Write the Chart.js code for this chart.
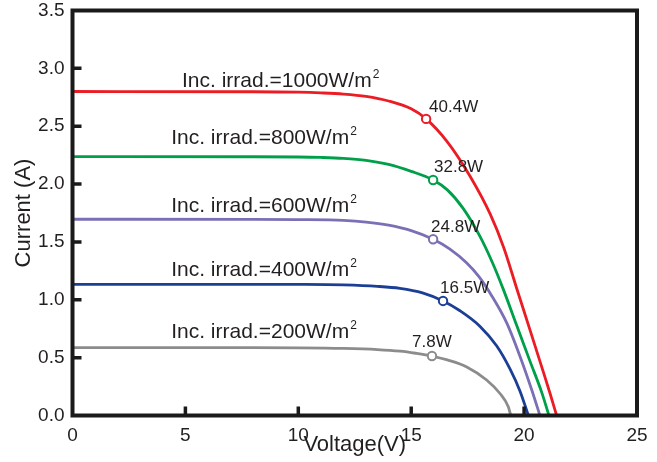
<!DOCTYPE html>
<html><head><meta charset="utf-8">
<script src="https://cdn.jsdelivr.net/npm/chart.js@4.4.1/dist/chart.umd.min.js"></script>
<style>html,body{margin:0;padding:0;background:#fff}#wrap{width:657px;height:462px}</style>
</head><body><div id="wrap"><canvas id="c" width="657" height="462"></canvas></div>
<script>
// ---- data ----
const irradiances = ['1000', '800', '600', '400', '200'];
const voltage1000 = [0, 8, 10, 11, 12, 13, 14, 15, 15.66, 16.6, 17.6, 18.5, 19.1, 19.67, 20.26, 20.78, 21.15, 21.44];
const current1000 = [2.80, 2.798, 2.794, 2.788, 2.778, 2.758, 2.718, 2.65, 2.563, 2.365, 2.07, 1.74, 1.45, 1.10, 0.74, 0.42, 0.19, 0];
const voltage800 = [0, 8, 10, 11, 12, 13, 14, 15, 15.97, 16.6, 17.3, 18.04, 18.6, 19.08, 19.67, 20.26, 20.78, 21.1];
const current800 = [2.237, 2.236, 2.234, 2.23, 2.222, 2.205, 2.17, 2.11, 2.035, 1.95, 1.79, 1.55, 1.32, 1.09, 0.78, 0.47, 0.2, 0];
const voltage600 = [0, 8, 10, 12, 13, 14, 15, 15.97, 16.7, 17.45, 18.0, 18.55, 19.23, 19.82, 20.34, 20.7];
const current600 = [1.696, 1.695, 1.693, 1.686, 1.672, 1.645, 1.598, 1.523, 1.44, 1.32, 1.20, 1.04, 0.80, 0.51, 0.22, 0];
const voltage400 = [0, 8, 10, 12, 13.5, 14.5, 15.5, 16.41, 17.16, 18.05, 18.79, 19.38, 19.82, 20.19];
const current400 = [1.134, 1.134, 1.133, 1.128, 1.116, 1.099, 1.06, 0.99, 0.905, 0.77, 0.60, 0.40, 0.21, 0];
const voltage200 = [0, 8, 10, 12, 13.5, 14.5, 15.2, 15.92, 16.6, 17.46, 18.34, 18.93, 19.3, 19.41];
const current200 = [0.586, 0.586, 0.585, 0.58, 0.57, 0.556, 0.538, 0.514, 0.48, 0.42, 0.307, 0.19, 0.075, 0];
const mppVoltage = [15.66, 15.97, 15.97, 16.41, 15.92];
const mppCurrent = [2.563, 2.035, 1.523, 0.99, 0.514];
const mppPower = ['40.4W', '32.8W', '24.8W', '16.5W', '7.8W'];
const xTickValues = [0, 5, 10, 15, 20, 25];
const yTickValues = [0, 0.5, 1.0, 1.5, 2.0, 2.5, 3.0, 3.5];

// ---- styling / annotation placement (data units) ----
const colors = ['#ec1c24', '#00a04b', '#7b70b6', '#1c3f96', '#8c8c8c'];
const irradAnchor = [[4.85, 2.839], [4.37, 2.343], [4.37, 1.759], [4.37, 1.206], [4.37, 0.670]];
const powerAnchor = [[15.79, 2.623], [16.01, 2.105], [15.88, 1.586], [16.28, 1.059], [15.04, 0.592]];
const textColor = '#231f20';
const fontFamily = '"Liberation Sans", Arial, sans-serif';

const curves = [
  [voltage1000, current1000], [voltage800, current800], [voltage600, current600],
  [voltage400, current400], [voltage200, current200]
];
const toPts = (xs, ys) => xs.map((x, i) => ({x: x, y: ys[i]}));

const datasets = [];
curves.forEach((c, i) => {
  datasets.push({
    label: 'Inc. irrad.=' + irradiances[i] + 'W/m²',
    data: toPts(c[0], c[1]),
    showLine: true, borderColor: colors[i], borderWidth: 2.8,
    pointRadius: 0, cubicInterpolationMode: 'monotone', fill: false, order: 2
  });
});
mppVoltage.forEach((v, i) => {
  datasets.push({
    label: mppPower[i],
    data: [{x: v, y: mppCurrent[i]}],
    showLine: false, pointRadius: 4.2, pointBorderWidth: 2,
    pointBorderColor: colors[i], pointBackgroundColor: '#ffffff', order: 1
  });
});

const annotPlugin = {
  id: 'annot',
  afterDraw(chart) {
    const ctx = chart.ctx, xs = chart.scales.x, ys = chart.scales.y;
    const a = chart.chartArea;
    ctx.save();
    // frame
    ctx.strokeStyle = '#1a1a1a';
    ctx.lineWidth = 4;
    ctx.strokeRect(a.left, a.top, a.right - a.left, a.bottom - a.top);
    // inward ticks
    ctx.lineWidth = 3.5;
    ctx.beginPath();
    yTickValues.forEach(v => {
      if (v <= ys.min || v >= ys.max) return;
      const py = ys.getPixelForValue(v);
      ctx.moveTo(a.left, py); ctx.lineTo(a.left + 9, py);
    });
    xTickValues.forEach(v => {
      if (v <= xs.min || v >= xs.max) return;
      const px = xs.getPixelForValue(v);
      ctx.moveTo(px, a.bottom); ctx.lineTo(px, a.bottom - 9);
    });
    ctx.stroke();
    // irradiance labels
    ctx.fillStyle = textColor;
    ctx.textBaseline = 'alphabetic';
    ctx.textAlign = 'left';
    irradiances.forEach((irr, i) => {
      const px = xs.getPixelForValue(irradAnchor[i][0]);
      const py = ys.getPixelForValue(irradAnchor[i][1]);
      const main = 'Inc. irrad.=' + irr + 'W/m';
      ctx.font = '21px ' + fontFamily;
      ctx.fillText(main, px, py);
      const w = ctx.measureText(main).width;
      ctx.font = '12px ' + fontFamily;
      ctx.fillText('2', px + w + 1, py - 9);
    });
    // power labels
    ctx.font = '17px ' + fontFamily;
    mppPower.forEach((p, i) => {
      ctx.fillText(p, xs.getPixelForValue(powerAnchor[i][0]), ys.getPixelForValue(powerAnchor[i][1]));
    });
    ctx.restore();
  }
};

new Chart(document.getElementById('c'), {
  type: 'scatter',
  data: {datasets: datasets},
  options: {
    responsive: false, animation: false, devicePixelRatio: 1,
    layout: {padding: {left: 0, right: 20, top: 10.5, bottom: 0}},
    plugins: {legend: {display: false}, tooltip: {enabled: false}},
    scales: {
      x: {
        type: 'linear', min: 0, max: 25,
        afterBuildTicks: s => { s.ticks = xTickValues.map(v => ({value: v})); },
        afterFit: s => { s.height = 46.5; s.paddingLeft = 0; s.paddingRight = 0; },
        grid: {display: false, drawTicks: false},
        border: {display: false},
        ticks: {color: textColor, padding: 9, font: {family: fontFamily, size: 19}, maxRotation: 0},
        title: {display: true, text: 'Voltage(V)', color: textColor, padding: {top: 0, bottom: 4},
                font: {family: fontFamily, size: 22}}
      },
      y: {
        type: 'linear', min: 0, max: 3.5,
        afterBuildTicks: s => { s.ticks = yTickValues.map(v => ({value: v})); },
        afterFit: s => { s.width = 72.5; s.paddingTop = 0; s.paddingBottom = 0; },
        grid: {display: false, drawTicks: false},
        border: {display: false},
        ticks: {color: textColor, padding: 8, font: {family: fontFamily, size: 19},
                callback: v => Number(v).toFixed(1)},
        title: {display: true, text: 'Current (A)', color: textColor, padding: {top: 11, bottom: 0},
                font: {family: fontFamily, size: 22}}
      }
    }
  },
  plugins: [annotPlugin]
});
</script></body></html>
